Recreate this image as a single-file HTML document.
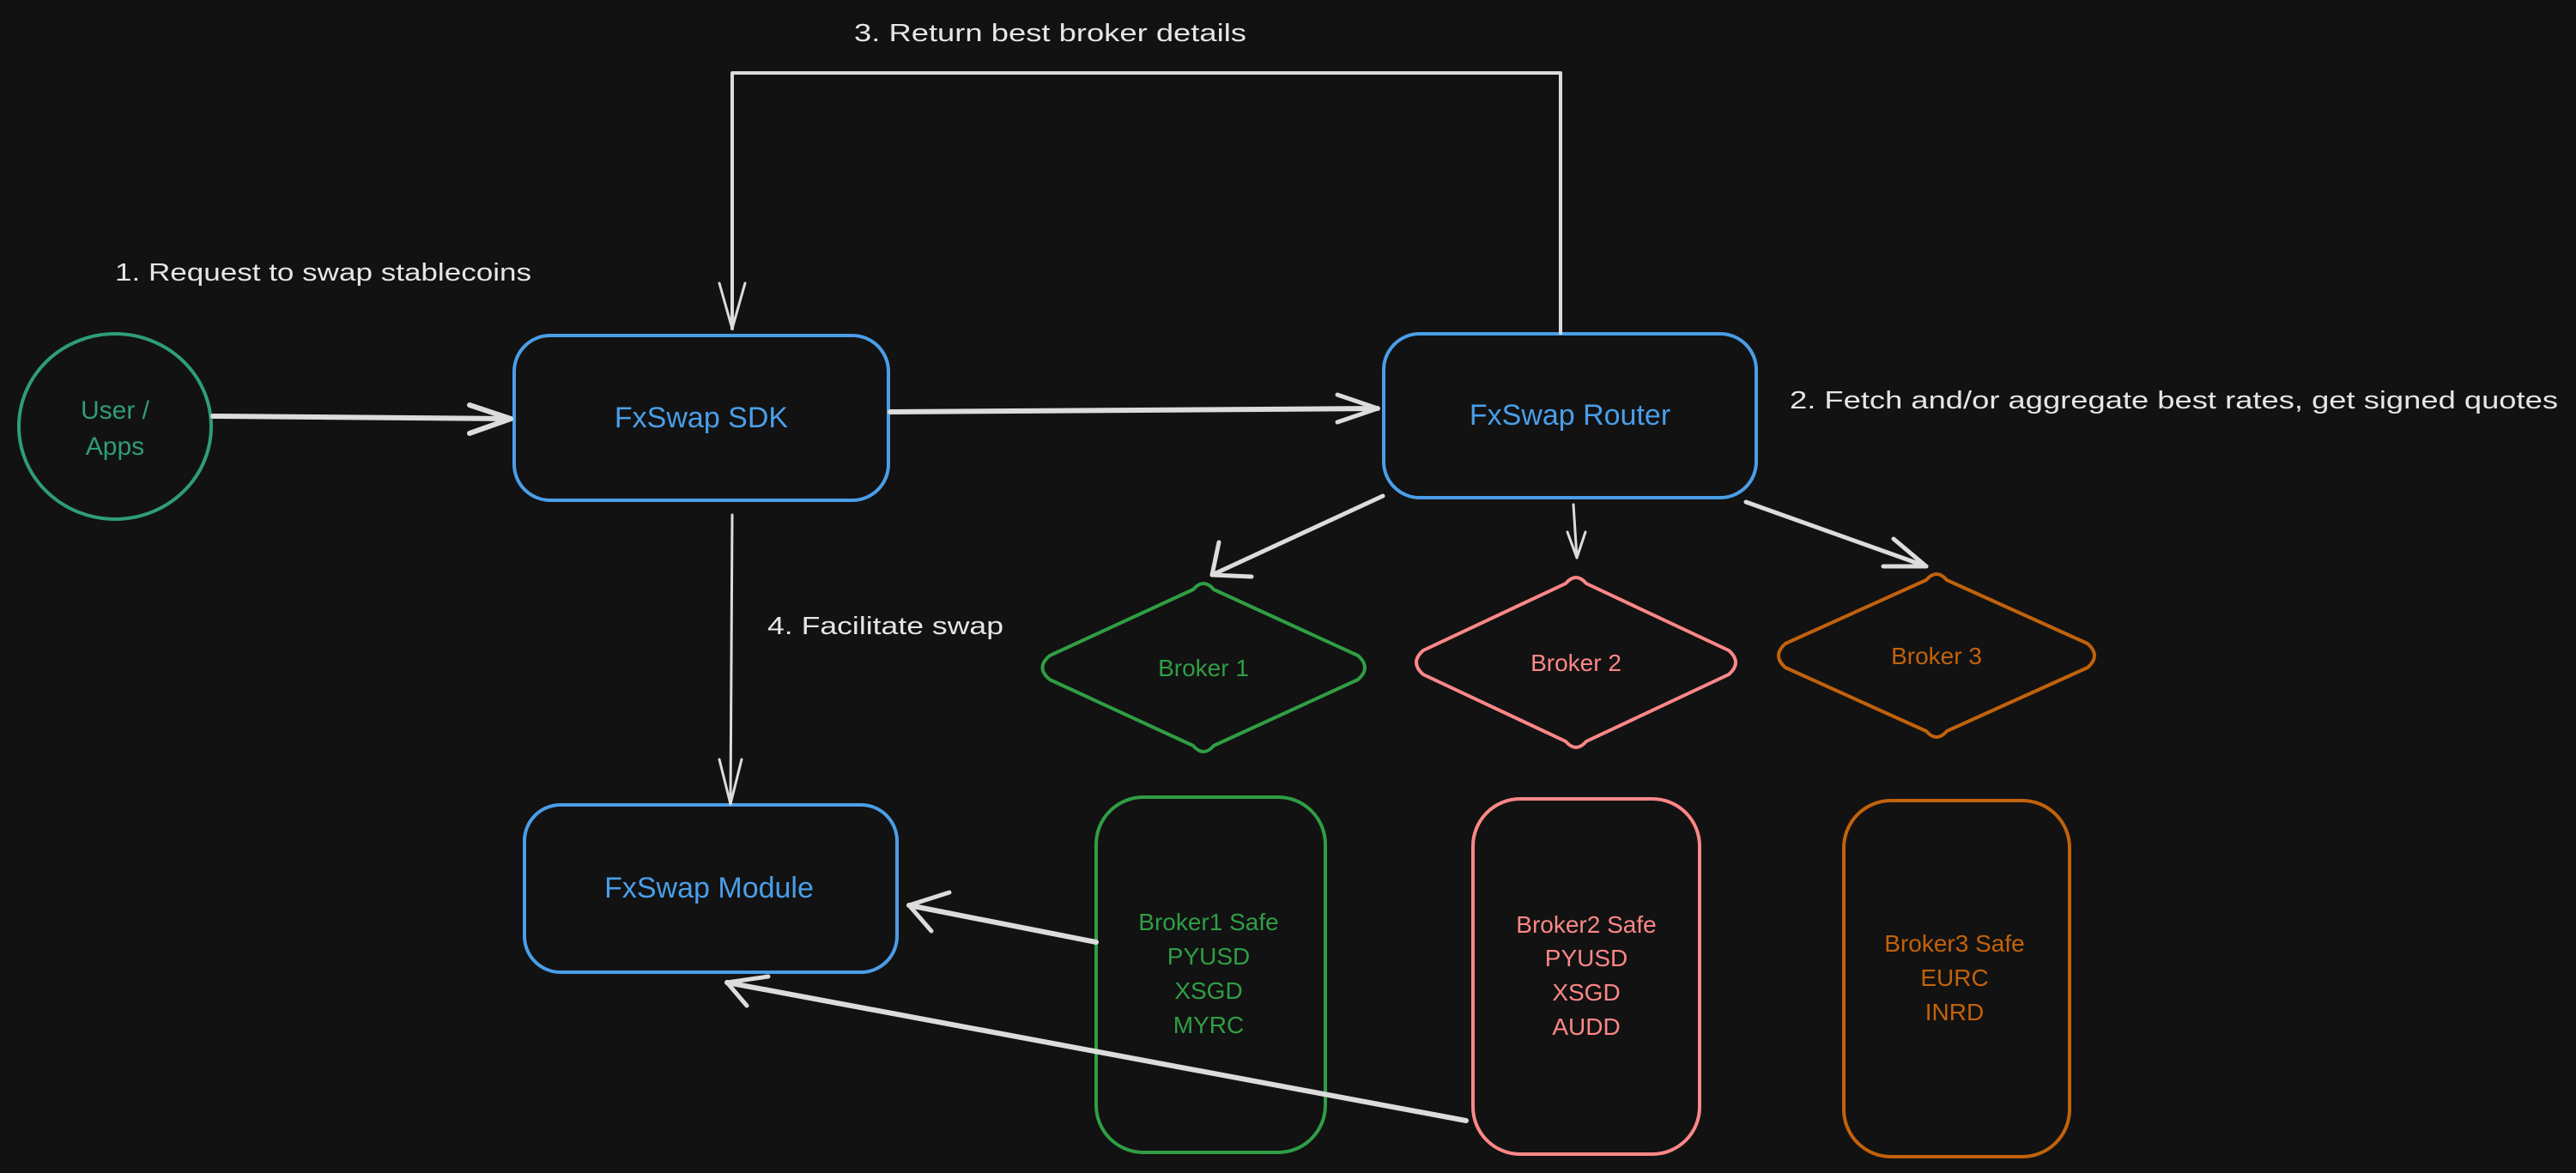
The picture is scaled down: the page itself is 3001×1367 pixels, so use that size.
<!DOCTYPE html>
<html><head><meta charset="utf-8"><style>
html,body{margin:0;padding:0;background:#121212;}
svg{display:block;}
text{font-family:"Liberation Sans",sans-serif;}
</style></head><body>
<svg width="3001" height="1367" viewBox="0 0 3001 1367" xmlns="http://www.w3.org/2000/svg">
<rect width="3001" height="1367" fill="#121212"/>
<g fill="none" stroke-linecap="round" stroke-linejoin="round">
<ellipse cx="134" cy="497" rx="112" ry="108" stroke="#2f9e74" stroke-width="4"/>
<rect x="599" y="391" width="436" height="192" rx="42" stroke="#4a9ee8" stroke-width="4"/>
<rect x="1612" y="389" width="434" height="191" rx="42" stroke="#4a9ee8" stroke-width="4"/>
<rect x="611" y="938" width="434" height="195" rx="42" stroke="#4a9ee8" stroke-width="4"/>
<rect x="1277" y="929" width="267" height="414" rx="55" stroke="#2f9e44" stroke-width="4"/>
<rect x="1716" y="931" width="264" height="414" rx="55" stroke="#ff8787" stroke-width="4"/>
<rect x="2148" y="933" width="263" height="415" rx="55" stroke="#c2620b" stroke-width="4"/>
<path d="M1390 687 Q1402 673 1414 687 L1582 764 Q1598 778 1582 792 L1414 869 Q1402 883 1390 869 L1223 792 Q1206 778 1223 764 Z" stroke="#2f9e44" stroke-width="4"/>
<path d="M1824 680 Q1836 666 1848 680 L2014 758 Q2030 772 2014 786 L1848 864 Q1836 878 1824 864 L1658 786 Q1642 772 1658 758 Z" stroke="#ff8787" stroke-width="4"/>
<path d="M2244 676 Q2256 662 2268 676 L2432 750 Q2448 764 2432 778 L2268 852 Q2256 866 2244 852 L2080 778 Q2064 764 2080 750 Z" stroke="#c2620b" stroke-width="4"/>
<g stroke="#dcdcdc">
<path d="M248 485 L595 488" stroke-width="6"/>
<path d="M547 472 L595 488 L547 505" stroke-width="6"/>
<path d="M1037 480 L1605 476" stroke-width="6"/>
<path d="M1558 460 L1605 476 L1558 492" stroke-width="5"/>
<path d="M1818 388 L1818 85 L853 85 L853 383" stroke-width="4"/>
<path d="M838 330 L853 383 L868 330" stroke-width="3"/>
<path d="M853 600 L851 937" stroke-width="3"/>
<path d="M838 885 L851 937 L864 885" stroke-width="3"/>
<path d="M1611 578 L1412 670" stroke-width="5"/>
<path d="M1420 632 L1412 670 L1458 672" stroke-width="5"/>
<path d="M1833 588 L1837 650" stroke-width="3"/>
<path d="M1826 620 L1837 650 L1847 620" stroke-width="3"/>
<path d="M2034 585 L2244 660" stroke-width="5"/>
<path d="M2206 628 L2244 660 L2194 660" stroke-width="5"/>
<path d="M1277 1098 L1059 1055" stroke-width="6"/>
<path d="M1106 1040 L1059 1055 L1085 1085" stroke-width="5"/>
<path d="M1708 1306 L847 1145" stroke-width="6"/>
<path d="M895 1138 L847 1145 L870 1172" stroke-width="5"/>
</g>
</g>
<g font-size="30" text-anchor="middle">
<text x="134" y="488" fill="#2f9e74">User /</text>
<text x="134" y="530" fill="#2f9e74">Apps</text>
<text x="817" y="498" fill="#4a9ee8" font-size="34">FxSwap SDK</text>
<text x="1829" y="495" fill="#4a9ee8" font-size="34">FxSwap Router</text>
<text x="826" y="1046" fill="#4a9ee8" font-size="34">FxSwap Module</text>
<text x="1402" y="788" fill="#2f9e44" font-size="28">Broker 1</text>
<text x="1836" y="782" fill="#ff8787" font-size="28">Broker 2</text>
<text x="2256" y="774" fill="#c2620b" font-size="28">Broker 3</text>
<g fill="#2f9e44" font-size="28"><text x="1408" y="1084">Broker1 Safe</text><text x="1408" y="1124">PYUSD</text><text x="1408" y="1164">XSGD</text><text x="1408" y="1204">MYRC</text></g>
<g fill="#ff8787" font-size="28"><text x="1848" y="1087">Broker2 Safe</text><text x="1848" y="1126">PYUSD</text><text x="1848" y="1166">XSGD</text><text x="1848" y="1206">AUDD</text></g>
<g fill="#c2620b" font-size="28"><text x="2277" y="1109">Broker3 Safe</text><text x="2277" y="1149">EURC</text><text x="2277" y="1189">INRD</text></g>
</g>
<g font-size="29" fill="#e6e6e6">
<text x="134" y="327" textLength="485" lengthAdjust="spacingAndGlyphs">1. Request to swap stablecoins</text>
<text x="995" y="48" textLength="457" lengthAdjust="spacingAndGlyphs">3. Return best broker details</text>
<text x="2085" y="476" textLength="895" lengthAdjust="spacingAndGlyphs">2. Fetch and/or aggregate best rates, get signed quotes</text>
<text x="894" y="739" textLength="275" lengthAdjust="spacingAndGlyphs">4. Facilitate swap</text>
</g>
</svg>
</body></html>
